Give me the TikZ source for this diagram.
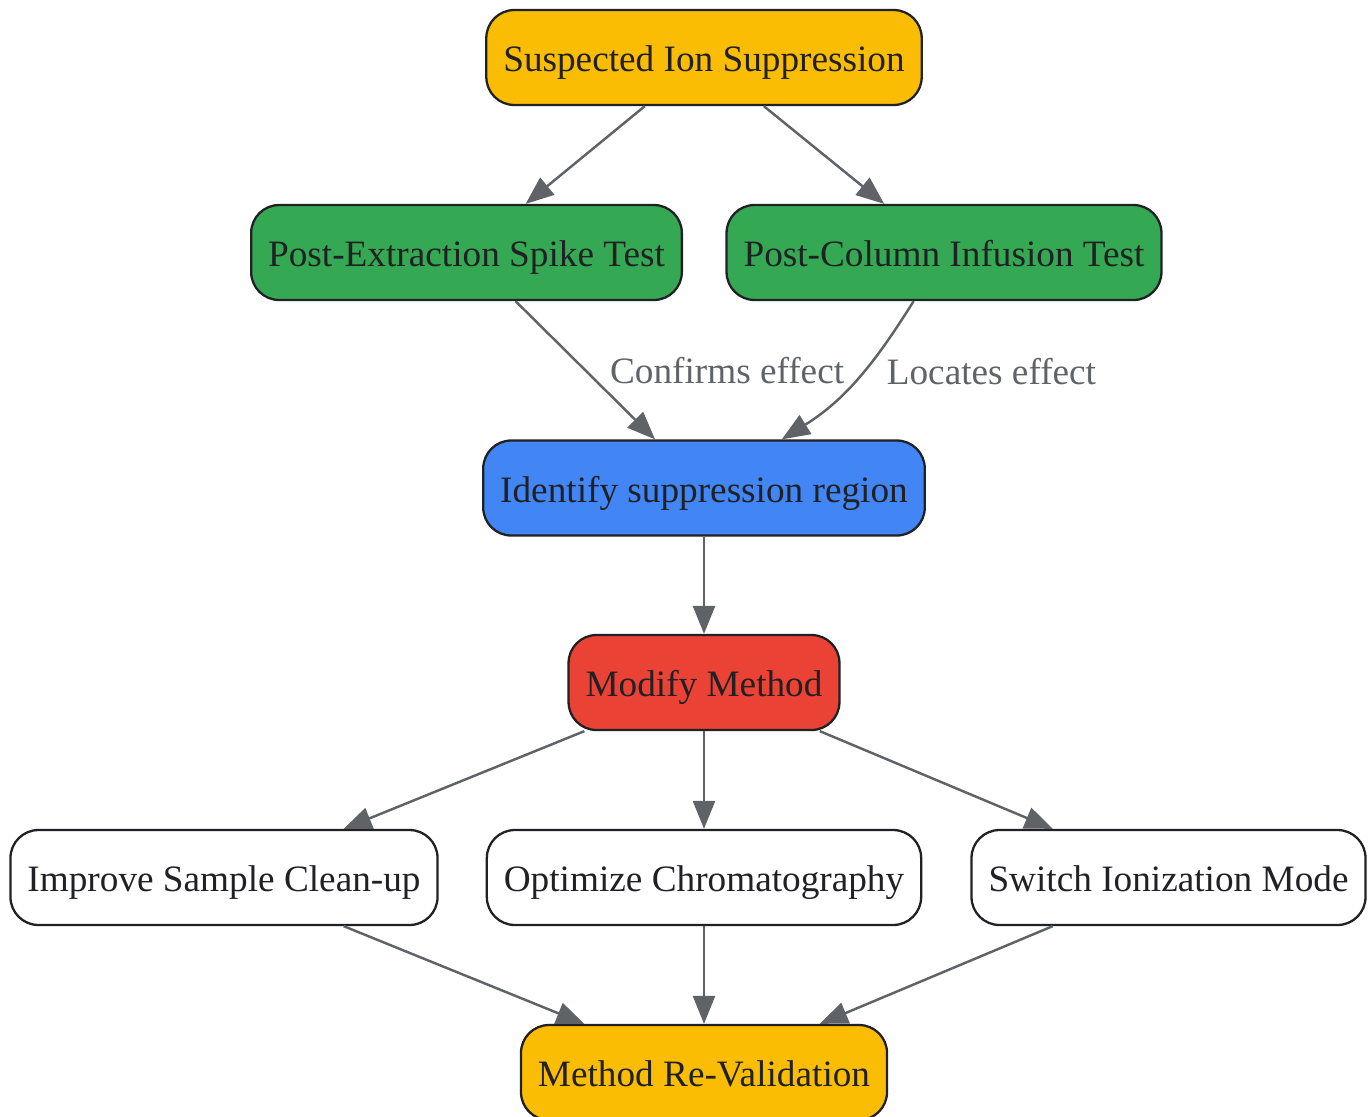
\documentclass[tikz,border=0pt]{standalone}
\usepackage{fontspec}
\setmainfont{Liberation Serif}
\usetikzlibrary{arrows.meta,positioning}
\definecolor{gyellow}{HTML}{FBBC04}
\definecolor{ggreen}{HTML}{34A853}
\definecolor{gblue}{HTML}{4285F4}
\definecolor{gred}{HTML}{EA4335}
\definecolor{boxline}{HTML}{202124}
\definecolor{arrowgray}{HTML}{5F6368}

\tikzset{
  box/.style={shape=rectangle,rounded corners=0.56cm,draw=boxline,line width=1.3pt,
    minimum height=1.9cm,inner xsep=0.34cm,text height=0.56cm,text depth=0cm,
    text=boxline,font=\fontsize{21.2}{25}\selectfont},
  flow/.style={color=arrowgray,line width=1.4pt,-{Triangle[length=0.56cm,width=0.44cm]}},
  lbl/.style={text=arrowgray,inner sep=0pt,font=\fontsize{21.2}{25}\selectfont},
}

\begin{document}
\begin{tikzpicture}[x=0.02cm,y=-0.02cm]
        \useasboundingbox (0,0) rectangle (1369,1116);

        \node[box,fill=gyellow] (sus) at (704, 57.5)   {Suspected Ion Suppression};
        \node[box,fill=ggreen]  (pes) at (466.5, 252.5) {Post-Extraction Spike Test};
        \node[box,fill=ggreen]  (pci) at (944, 252.5)   {Post-Column Infusion Test};
        \node[box,fill=gblue]   (idr) at (704, 488)     {Identify suppression region};
        \node[box,fill=gred]    (mod) at (704, 682.5)   {Modify Method};
        \node[box,fill=white]   (isc) at (224, 877.5)   {Improve Sample Clean-up};
        \node[box,fill=white]   (opc) at (704, 877.5)   {Optimize Chromatography};
        \node[box,fill=white]   (sim) at (1168.5, 877.5) {Switch Ionization Mode};
        \node[box,fill=gyellow] (mrv) at (704, 1072.5)  {Method Re-Validation};

	\path (sus) edge[flow] (pes);
	\path (sus) edge[flow] (pci);
	\path (pes) edge[flow] node[lbl,pos=0.5,right=0.47cm]{Confirms effect} (idr);
	\path (pci) edge[flow,out=-122,in=32] node[lbl,pos=0.5,right=0.58cm,yshift=0.16cm]{Locates effect} (idr);
	\path (idr) edge[flow] (mod);
	\path (mod) edge[flow] (isc);
	\path (mod) edge[flow] (opc);
	\path (mod) edge[flow] (sim);
	\path (isc) edge[flow] (mrv);
	\path (opc) edge[flow] (mrv);
	\path (sim) edge[flow] (mrv);
\end{tikzpicture}
\end{document}
